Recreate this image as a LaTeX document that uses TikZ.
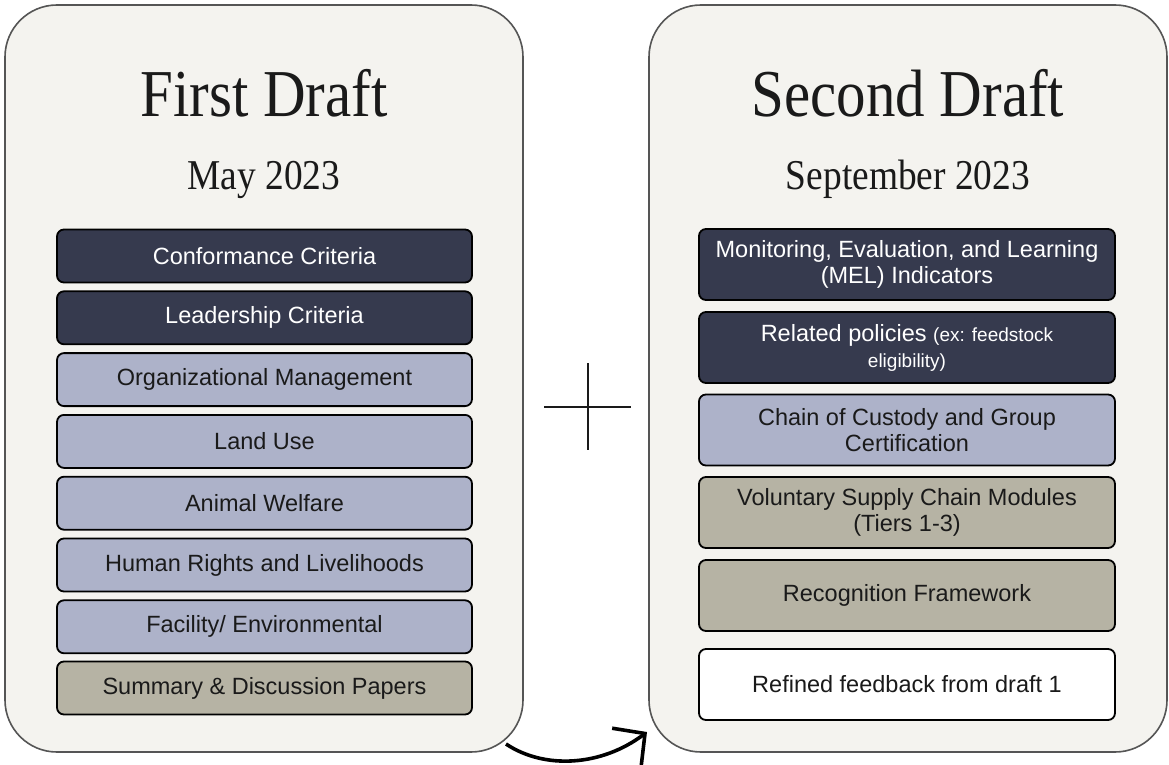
\documentclass[tikz,border=0pt]{standalone}
\usepackage{fontspec}
\usetikzlibrary{arrows.meta}
\newfontfamily\titlefont[FakeStretch=0.88]{Liberation Serif}
\newfontfamily\boxfont{Liberation Sans}
\definecolor{panelfill}{HTML}{F4F3EF}
\definecolor{panelline}{HTML}{555555}
\definecolor{navy}{HTML}{363A4E}
\definecolor{lavender}{HTML}{ADB2C9}
\definecolor{taupe}{HTML}{B6B3A4}
\definecolor{ink}{HTML}{1A1A1A}
\begin{document}
\begin{tikzpicture}[x=1pt,y=-1pt,
  panel/.style={draw=panelline, line width=1.6pt, fill=panelfill,
    rounded corners=52pt, minimum width=518pt, minimum height=747pt, inner sep=0pt},
  bigtitle/.style={anchor=base, inner sep=0pt, text=ink,
    font=\titlefont\fontsize{67}{70}\selectfont},
  datetitle/.style={anchor=base, inner sep=0pt, text=ink,
    font=\titlefont\fontsize{42.5}{45}\selectfont},
  item/.style={draw=black, line width=1.8pt, rounded corners=7pt, inner sep=0pt,
    align=center, font=\boxfont\fontsize{23.5}{26}\selectfont},
  leftitem/.style={item, minimum width=415pt, minimum height=53pt},
  rightitem/.style={item, minimum width=416pt, minimum height=71pt},
  darkitem/.style={fill=navy, text=white},
  lightitem/.style={fill=lavender, text=ink},
  tanitem/.style={fill=taupe, text=ink},
  whiteitem/.style={fill=white, text=ink}]
  \useasboundingbox (0,0) rectangle (1169,765);
  \fill[white] (0,0) rectangle (1169,765);

  % the two draft panels
  \node[panel] (p1) at (264,378.5) {};
  \node[panel] (p2) at (908,378.5) {};

  % headings
  \node[bigtitle] (t1) at (264,117) {First Draft};
  \node[datetitle] (d1) at (264,189) {May 2023};
  \node[bigtitle] (t2) at (908,117) {Second Draft};
  \node[datetitle] (d2) at (908,189) {September 2023};

  % first draft contents
  \node[leftitem, darkitem]  (l1) at (264.5,256.0) {Conformance Criteria};
  \node[leftitem, darkitem]  (l2) at (264.5,317.8) {Leadership Criteria};
  \node[leftitem, lightitem] (l3) at (264.5,379.6) {Organizational Management};
  \node[leftitem, lightitem] (l4) at (264.5,441.4) {Land Use};
  \node[leftitem, lightitem] (l5) at (264.5,503.2) {Animal Welfare};
  \node[leftitem, lightitem] (l6) at (264.5,565.0) {Human Rights and Livelihoods};
  \node[leftitem, lightitem] (l7) at (264.5,626.8) {Facility/ Environmental};
  \node[leftitem, tanitem]   (l8) at (264.5,688.0) {Summary \& Discussion Papers};

  % second draft contents
  \node[rightitem, darkitem]  (r1) at (907,264.5) {Monitoring, Evaluation, and Learning\\(MEL) Indicators};
  \node[rightitem, darkitem]  (r2) at (907,347.5) {Related policies {\fontsize{19}{26}\selectfont(ex: feedstock}\\{\fontsize{19}{24}\selectfont eligibility)}};
  \node[rightitem, lightitem] (r3) at (907,430.0) {Chain of Custody and Group\\Certification};
  \node[rightitem, tanitem]   (r4) at (907,512.5) {Voluntary Supply Chain Modules\\(Tiers 1-3)};
  \node[rightitem, tanitem]   (r5) at (907,595.5) {Recognition Framework};
  \node[rightitem, whiteitem] (r6) at (907,684.5) {Refined feedback from draft 1};

  % plus sign between the panels
  \draw[line width=2.2pt, draw=ink] (544,407) -- (631,407);
  \draw[line width=2.2pt, draw=ink] (588,363) -- (588,450);

  % arrow from the first draft to the second
  \coordinate (a1) at (506,744);
  \coordinate (a2) at (647,732);
  \draw[line width=3.6pt, draw=black, -{Straight Barb[length=23pt,width=48pt]}]
    (a1) .. controls (545,770) and (602,766) .. (a2);
\end{tikzpicture}
\end{document}
